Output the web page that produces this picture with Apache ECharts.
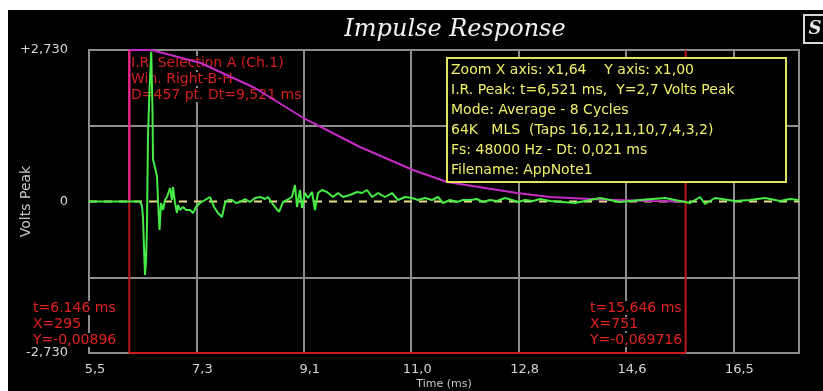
<!DOCTYPE html>
<html>
<head>
<meta charset="utf-8">
<style>
  html, body { margin: 0; padding: 0; background: #fff; }
  .ir-wrap { position: relative; width: 823px; height: 391px; overflow: hidden; }
  .ir-chart { position: absolute; left: 8px; top: 10px; width: 815px; height: 381px; background: #000; }
</style>
<script src="https://cdn.jsdelivr.net/npm/echarts@6/dist/echarts.min.js"></script>
</head>
<body>
<div class="ir-wrap"><div class="ir-chart" id="chart"></div></div>
<script>
  // tick labels as printed by the analyzer
  const xTickLabels = ['5,5', '7,3', '9,1', '11,0', '12,8', '14,6', '16,5'];
  const yTickLabels = ['-2,730', '', '0', '', '+2,730'];

  // measured impulse response (ms, volts)
  const irTime = [
    5.458, 6.329, 6.363, 6.380, 6.397, 6.414, 6.431, 6.448, 6.465, 6.491,
    6.521, 6.542, 6.551, 6.568, 6.585, 6.602, 6.619, 6.636, 6.662, 6.688,
    6.722, 6.756, 6.790, 6.841, 6.875, 6.893, 6.927, 6.961, 6.978, 7.012,
    7.063, 7.115, 7.183, 7.234, 7.285, 7.354, 7.439, 7.524, 7.593, 7.661,
    7.729, 7.780, 7.832, 7.900, 7.968, 8.037, 8.122, 8.207, 8.293, 8.378,
    8.464, 8.515, 8.583, 8.634, 8.703, 8.771, 8.839, 8.924, 8.976, 9.010,
    9.061, 9.095, 9.146, 9.198, 9.266, 9.317, 9.368, 9.437, 9.522, 9.625,
    9.710, 9.795, 9.915, 10.035, 10.120, 10.205, 10.291, 10.393, 10.513, 10.632,
    10.735, 10.854, 10.974, 11.076, 11.196, 11.315, 11.418, 11.503, 11.623, 11.742,
    11.845, 11.964, 12.084, 12.186, 12.306, 12.425, 12.562, 12.681, 12.784, 12.903,
    13.040, 13.160, 13.330, 13.757, 14.184, 14.525, 14.867, 15.294, 15.721, 15.892,
    15.977, 16.148, 16.489, 16.746, 17.002, 17.258, 17.429, 17.582
  ];
  const irVolts = [
    0, 0, -0.081, -0.279, -0.820, -1.324, -1.090, -0.460, 1.162, 2.009,
    2.70, 1.649, 0.748, 0.694, 0.658, 0.532, 0.460, 0.027, -0.514, -0.027,
    -0.153, 0.027, 0.081, 0.243, 0.027, 0.261, -0.027, -0.207, -0.063, -0.153,
    -0.099, -0.153, -0.153, -0.207, -0.099, -0.027, 0.027, 0.081, -0.099, -0.207,
    -0.279, -0.027, 0.027, 0.027, -0.027, -0.009, 0.045, -0.009, 0.063, 0.081,
    0.045, 0.081, -0.027, -0.099, -0.189, -0.009, 0.027, 0.081, 0.297, -0.099,
    0.207, -0.117, 0.153, 0.063, 0.171, -0.153, 0.153, 0.207, 0.171, 0.081,
    0.153, 0.081, 0.117, 0.171, 0.153, 0.207, 0.081, 0.153, 0.081, 0.153,
    0.027, 0.081, 0.063, 0.027, 0.063, 0.027, 0.081, -0.027, 0.027, -0.009,
    0.027, 0.027, 0.045, -0.009, 0.027, 0.009, 0.063, 0.027, -0.009, 0.027,
    0.009, 0.045, 0.009, -0.027, 0.063, -0.009, 0.027, 0.063, -0.027, 0.081,
    -0.045, 0.063, 0.009, 0.027, 0.063, 0.009, 0.045, 0.027
  ];

  // right half Blackman-Harris window as drawn
  const winTime = [6.146, 6.146, 6.521, 7.354, 8.293, 9.147, 10.086, 10.991, 11.572, 12.767, 13.331, 14.184, 15.038, 15.646];
  const winVolts = [0, 2.73, 2.73, 2.50, 2.045, 1.487, 0.982, 0.568, 0.351, 0.153, 0.081, 0.036, 0.009, 0];

  // cursors A / B
  const cursorTimes = [6.146, 15.646];
  const cursorSamples = [295, 751];
  const cursorValues = ['-0,00896', '-0,069716'];

  const infoLines = [
    'Zoom X axis: x1,64    Y axis: x1,00',
    'I.R. Peak: t=6,521 ms,  Y=2,7 Volts Peak',
    'Mode: Average - 8 Cycles',
    '64K   MLS  (Taps 16,12,11,10,7,4,3,2)',
    'Fs: 48000 Hz - Dt: 0,021 ms',
    'Filename: AppNote1'
  ];
  const selectionLines = ['I.R. Selection A (Ch.1)', 'Win. Right-B-H', 'D=457 pt. Dt=9,521 ms'];

  const xMin = 5.458, xMax = 17.582, xStep = 1.834;
  const yMax = 2.73, yStep = 1.365;

  let chart = echarts.init(document.getElementById('chart'));

  function pairs(xs, ys) {
    return xs.map((x, i) => [x, ys[i]]);
  }

  function lineSeries(name, data, color, width, z, type) {
    return {
      name: name,
      type: 'line',
      data: data,
      showSymbol: false,
      symbol: 'none',
      z: z,
      silent: true,
      lineStyle: { color: color, width: width, type: type || 'solid' }
    };
  }

  let graphic = [
    {
      type: 'text', x: 447, y: 20, z: 100,
      style: { text: 'Impulse Response', fill: '#f2f2f2', font: 'italic 24px "DejaVu Serif"', textAlign: 'center', textVerticalAlign: 'middle' }
    },
    {
      type: 'rect', shape: { x: 796, y: 5, width: 22, height: 28 }, z: 100,
      style: { fill: '#000', stroke: '#d8d8d8', lineWidth: 2 }
    },
    {
      type: 'text', x: 807, y: 19, z: 101,
      style: { text: 'S', fill: '#e8e8e8', font: 'italic bold 18px "DejaVu Serif"', textAlign: 'center', textVerticalAlign: 'middle' }
    },
    {
      type: 'rect', shape: { x: 439, y: 48, width: 339, height: 124 }, z: 100,
      style: { fill: '#000', stroke: '#e4e45c', lineWidth: 2 }
    }
  ];

  infoLines.forEach((t, i) => {
    graphic.push({
      type: 'text', x: 443, y: 60 + i * 20, z: 101,
      style: { text: t, fill: '#f0f06a', font: '14px "DejaVu Sans"', textVerticalAlign: 'middle' }
    });
  });

  selectionLines.forEach((t, i) => {
    graphic.push({
      type: 'text', x: 123, y: 53 + i * 16, z: 1,
      style: { text: t, fill: '#d41e1e', font: '14px "DejaVu Sans"', textVerticalAlign: 'middle', backgroundColor: '#000' }
    });
  });

  cursorTimes.forEach((t, c) => {
    let lines = ['t=' + t.toFixed(3) + ' ms', 'X=' + cursorSamples[c], 'Y=' + cursorValues[c]];
    lines.forEach((s, i) => {
      graphic.push({
        type: 'text', x: c === 0 ? 25 : 582, y: 298 + i * 16, z: 100,
        style: { text: s, fill: '#e02222', font: '14px "DejaVu Sans"', textVerticalAlign: 'middle', backgroundColor: '#000' }
      });
    });
  });

  let option = {
    backgroundColor: '#000',
    animation: false,
    textStyle: { fontFamily: 'DejaVu Sans' },
    grid: {
      show: true,
      left: 81, right: 24, top: 40, bottom: 38,
      containLabel: false,
      outerBoundsMode: 'none',
      borderColor: '#8c8c8c',
      borderWidth: 2,
      backgroundColor: 'transparent'
    },
    xAxis: {
      type: 'value',
      min: xMin,
      max: xMax,
      interval: xStep,
      name: 'Time (ms)',
      nameLocation: 'middle',
      nameGap: 26,
      nameMoveOverlap: false,
      nameTextStyle: { color: '#c8c8c8', fontSize: 11 },
      axisLine: { show: false },
      axisTick: { show: false },
      axisLabel: {
        color: '#d4d4d4',
        fontSize: 13,
        margin: 10,
        padding: [0, 0, 0, 12],
        showMinLabel: true,
        showMaxLabel: false,
        formatter: function (v) {
          let k = (v - xMin) / xStep;
          if (Math.abs(k - Math.round(k)) > 0.01) return '';
          return xTickLabels[Math.round(k)] || '';
        }
      },
      splitLine: { show: true, lineStyle: { color: '#8c8c8c', width: 2 } }
    },
    yAxis: {
      type: 'value',
      min: -yMax,
      max: yMax,
      interval: yStep,
      name: 'Volts Peak',
      nameLocation: 'middle',
      nameRotate: 90,
      nameGap: 56,
      nameMoveOverlap: false,
      nameTextStyle: { color: '#c8c8c8', fontSize: 14 },
      axisLine: { show: false },
      axisTick: { show: false },
      axisLabel: {
        color: '#d4d4d4',
        fontSize: 13,
        margin: 21,
        formatter: function (v) {
          return yTickLabels[Math.round((v + yMax) / yStep)] || '';
        }
      },
      splitLine: {
        show: true,
        lineStyle: { color: ['#8c8c8c', '#8c8c8c', 'rgba(0,0,0,0)', '#8c8c8c', '#8c8c8c'], width: 2 }
      }
    },
    graphic: graphic,
    series: [
      lineSeries('zero', [[xMin, 0], [xMax, 0]], '#e6e08c', 2, 2, [8, 7]),
      lineSeries('selection', [[cursorTimes[0], -yMax], [cursorTimes[1], -yMax]], '#c81a1a', 2, 3),
      lineSeries('cursorA', [[cursorTimes[0], -yMax], [cursorTimes[0], 0]], '#b81818', 2, 3),
      lineSeries('cursorB', [[cursorTimes[1], -yMax], [cursorTimes[1], yMax]], '#b81818', 2, 3),
      lineSeries('window', pairs(winTime, winVolts), '#c42cc4', 2, 4),
      lineSeries('windowEdge', [[cursorTimes[0], 0], [cursorTimes[0], yMax]], '#f0247c', 2, 5),
      lineSeries('ir', pairs(irTime, irVolts), '#46ec46', 2, 6)
    ]
  };

  chart.setOption(option);
</script>
</body>
</html>
